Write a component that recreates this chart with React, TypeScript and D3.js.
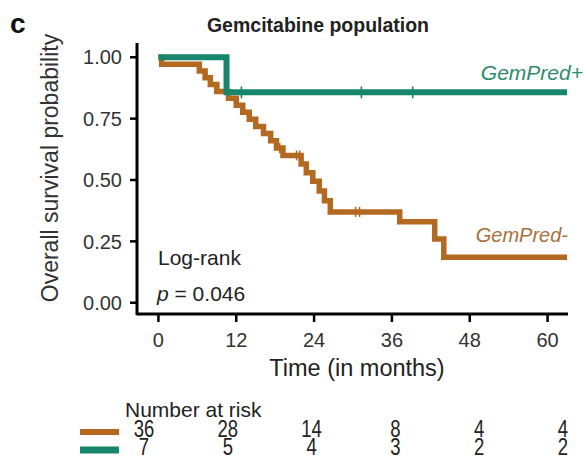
import React from "react";
import * as d3 from "d3";

const W = 584;
const H = 461;

const timeTicks = [0, 12, 24, 36, 48, 60];
const survTicks = [0, 0.25, 0.5, 0.75, 1];

// GemPred- (brown) Kaplan-Meier steps
const minusTimes = [0, 0.5, 6.3, 7.2, 8.0, 9.0, 10.8, 12.0, 13.0, 14.0, 15.0, 16.2, 17.3, 18.2, 19.2, 22.0, 22.8, 23.8, 24.8, 25.6, 26.5, 37.2, 42.6, 44.0, 63];
const minusSurv = [1, 0.972, 0.944, 0.917, 0.889, 0.861, 0.833, 0.805, 0.776, 0.747, 0.718, 0.689, 0.66, 0.63, 0.6, 0.565, 0.53, 0.495, 0.455, 0.415, 0.37, 0.33, 0.26, 0.185, 0.185];
const minusCensor = [18.7, 21.3, 21.8, 30.4, 31.0];

// GemPred+ (teal)
const plusTimes = [0, 10.5, 63];
const plusSurv = [1, 0.857, 0.857];
const plusCensor = [12.8, 31.3, 39.2];

const riskTimes = [0, 12, 24, 36, 48, 60];
const riskMinus = [36, 28, 14, 8, 4, 4];
const riskPlus = [7, 5, 4, 3, 2, 2];

const TEAL = "#17866c";
const BROWN = "#b3691f";
const FONT = "'Liberation Sans', Arial, sans-serif";

const x = d3.scaleLinear().domain([-3.15, 63.15]).range([138, 568]);
const y = d3.scaleLinear().domain([-0.05, 1.05]).range([315, 45]);
const rx = d3.scaleLinear().domain([0, 60]).range([144, 563]);

const line = d3
  .line<[number, number]>()
  .x((d) => x(d[0]))
  .y((d) => y(d[1]))
  .curve(d3.curveStepAfter);

function survAt(times: number[], surv: number[], t: number) {
  let s = surv[0];
  for (let i = 0; i < times.length; i++) if (times[i] <= t) s = surv[i];
  return s;
}

export default function App() {
  const minusPts = minusTimes.map((t, i) => [t, minusSurv[i]] as [number, number]);
  const plusPts = plusTimes.map((t, i) => [t, plusSurv[i]] as [number, number]);
  const [x0, x1] = x.range();
  const [yb, yt] = y.range();
  return (
    <svg
      width={W}
      height={H}
      style={{ position: "absolute", left: 0, top: 0, background: "#fff" }}
      fontFamily={FONT}
    >
      <text x={10} y={33} fontSize={28} fontWeight="bold" fill="#111">c</text>
      <text x={318} y={32} fontSize={19.5} fontWeight="bold" textAnchor="middle" fill="#222">
        Gemcitabine population
      </text>

      {/* y axis */}
      <line x1={137} x2={137} y1={yt - 2} y2={yb} stroke="#000" strokeWidth={3} />
      {survTicks.map((v) => (
        <g key={v}>
          <line x1={130} x2={137} y1={y(v)} y2={y(v)} stroke="#000" strokeWidth={2.5} />
          <text x={122} y={y(v)} dy="0.36em" fontSize={20} textAnchor="end" fill="#333">
            {d3.format(".2f")(v)}
          </text>
        </g>
      ))}
      <text
        transform={`translate(58,${168}) rotate(-90)`}
        fontSize={23}
        textAnchor="middle"
        fill="#333"
      >
        Overall survival probability
      </text>

      {/* x axis */}
      <line x1={x0 - 1.5} x2={x1} y1={314} y2={314} stroke="#000" strokeWidth={3} />
      {timeTicks.map((t) => (
        <g key={t}>
          <line x1={x(t)} x2={x(t)} y1={314} y2={322} stroke="#000" strokeWidth={2.5} />
          <text x={x(t)} y={347} fontSize={20} textAnchor="middle" fill="#333">
            {t}
          </text>
        </g>
      ))}
      <text x={357} y={376} fontSize={23.5} textAnchor="middle" fill="#222">
        Time (in months)
      </text>

      {/* curves */}
      <path d={line(minusPts) || ""} fill="none" stroke={BROWN} strokeWidth={5.5} />
      {minusCensor.map((t, i) => (
        <line
          key={i}
          x1={x(t)}
          x2={x(t)}
          y1={y(survAt(minusTimes, minusSurv, t)) - 5}
          y2={y(survAt(minusTimes, minusSurv, t)) + 5}
          stroke={BROWN}
          strokeWidth={1.6}
        />
      ))}
      <path d={line(plusPts) || ""} fill="none" stroke={TEAL} strokeWidth={6} />
      {plusCensor.map((t, i) => (
        <line
          key={i}
          x1={x(t)}
          x2={x(t)}
          y1={y(survAt(plusTimes, plusSurv, t)) - 6}
          y2={y(survAt(plusTimes, plusSurv, t)) + 6}
          stroke={TEAL}
          strokeWidth={1.6}
        />
      ))}

      <text x={583} y={80} fontSize={21} fontStyle="italic" textAnchor="end" fill="#2f8a70">
        GemPred+
      </text>
      <text x={568} y={242} fontSize={20} fontStyle="italic" textAnchor="end" fill="#a9703c">
        GemPred-
      </text>

      <text x={158} y={265} fontSize={21} fill="#222">Log-rank</text>
      <text x={157} y={301} fontSize={21} fill="#222">
        <tspan fontStyle="italic">p</tspan> = 0.046
      </text>

      {/* risk table */}
      <text x={125} y={417} fontSize={21} fill="#222">Number at risk</text>
      <line x1={80} x2={119} y1={432} y2={432} stroke={BROWN} strokeWidth={6} />
      <line x1={80} x2={119} y1={450} y2={450} stroke={TEAL} strokeWidth={7} />
      {riskTimes.map((t, i) => (
        <g key={t}>
          <text
            transform={`translate(${rx(t)},437) scale(1,1.25)`}
            fontSize={18.5}
            textAnchor="middle"
            fill="#222"
          >
            {riskMinus[i]}
          </text>
          <text
            transform={`translate(${rx(t)},455) scale(1,1.25)`}
            fontSize={18.5}
            textAnchor="middle"
            fill="#222"
          >
            {riskPlus[i]}
          </text>
        </g>
      ))}
    </svg>
  );
}
